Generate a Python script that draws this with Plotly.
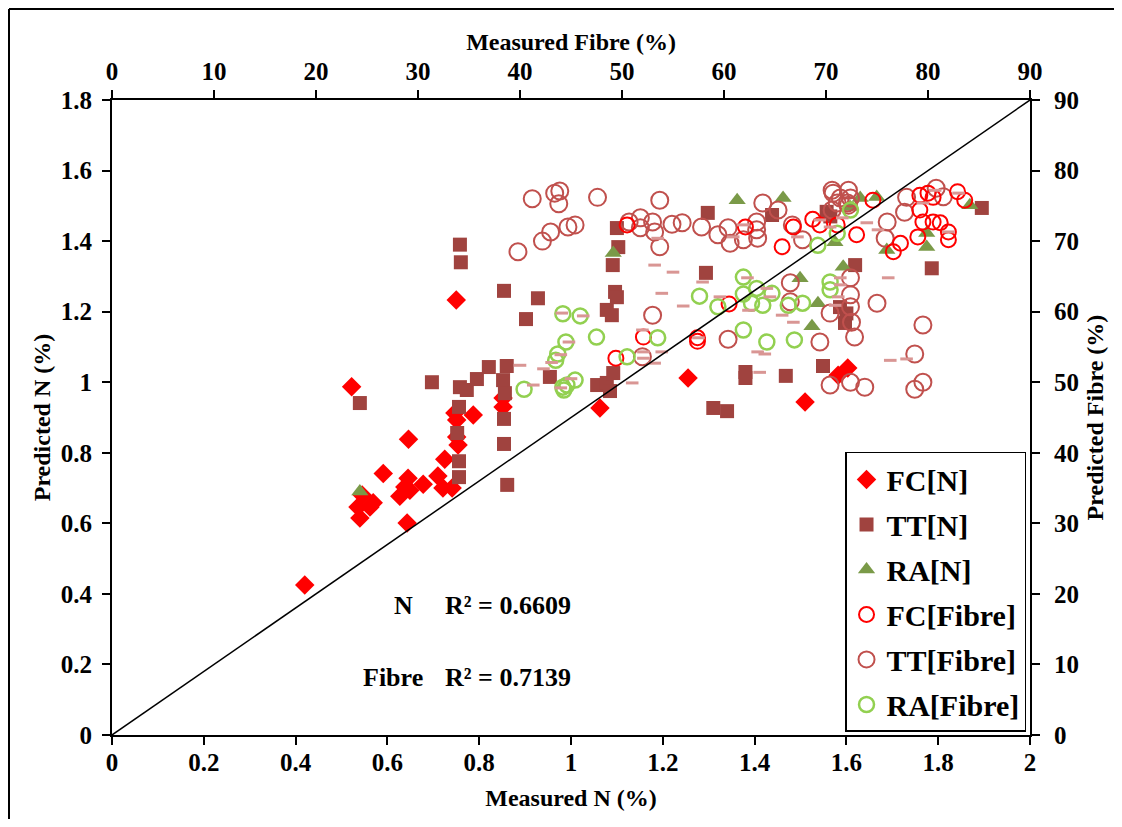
import plotly.graph_objects as go

# ---------------- data ----------------
fc_n_x = [0.42, 0.522, 0.536, 0.540, 0.545, 0.562, 0.569, 0.591, 0.627, 0.638, 0.643, 0.645, 0.646, 0.649,
          0.678, 0.710, 0.721, 0.725, 0.741, 0.747, 0.751, 0.751, 0.754, 0.750, 0.787, 0.852, 0.852,
          1.063, 1.255, 1.510, 1.582, 1.603]
fc_n_y = [0.425, 0.987, 0.646, 0.615, 0.680, 0.646, 0.658, 0.741, 0.677, 0.703, 0.601, 0.728, 0.838, 0.694,
          0.711, 0.734, 0.700, 0.782, 0.700, 0.913, 0.893, 0.845, 0.822, 1.233, 0.907, 0.930, 0.955,
          0.927, 1.012, 0.944, 1.020, 1.040]

tt_n_x = [0.540, 0.697, 0.752, 0.756, 0.756, 0.756, 0.758, 0.773, 0.795, 0.758, 0.760, 0.821, 0.852, 0.854,
          0.854, 0.854, 0.856, 0.860, 0.861, 0.902, 0.928, 0.954, 1.057, 1.078, 1.092, 1.078, 1.089, 1.091,
          1.096, 1.100, 1.100, 1.103, 1.085, 1.298, 1.294, 1.310, 1.340, 1.380, 1.380, 1.438, 1.468, 1.549,
          1.557, 1.586, 1.597, 1.600, 1.619, 1.786, 1.895, 1.565]
tt_n_y = [0.941, 1.000, 0.856, 0.776, 0.731, 0.930, 0.986, 0.978, 1.009, 1.390, 1.340, 1.043, 1.006, 1.259,
          0.896, 0.825, 0.969, 1.046, 0.709, 1.179, 1.238, 1.015, 0.992, 0.998, 1.026, 1.205, 1.190, 1.332,
          1.256, 1.241, 1.437, 1.383, 0.975, 1.480, 1.310, 0.927, 0.918, 1.029, 1.012, 1.474, 1.018, 1.046,
          1.483, 1.213, 1.168, 1.195, 1.332, 1.323, 1.494, 1.470]

ra_n_x = [0.540, 1.092, 1.362, 1.462, 1.499, 1.525, 1.538, 1.575, 1.593, 1.608, 1.630, 1.666, 1.688,
          1.775, 1.775, 1.869]
ra_n_y = [0.690, 1.366, 1.516, 1.522, 1.295, 1.159, 1.224, 1.397, 1.327, 1.497, 1.522, 1.525, 1.375,
          1.423, 1.383, 1.502]

fc_f_x = [49.4, 52.1, 57.4, 57.4, 50.5, 60.5, 62.1, 65.7, 66.8, 68.7, 69.4, 71.1, 73.0, 74.6, 76.6, 77.3,
          79.0, 79.2, 79.2, 79.5, 80.0, 80.5, 80.5, 81.2, 82.0, 82.0, 82.9, 83.6]
fc_f_y = [53.4, 56.4, 56.3, 55.8, 72.3, 61.1, 72.0, 69.2, 72.0, 73.1, 72.3, 72.3, 70.9, 75.8, 68.5, 69.7,
          70.6, 74.4, 76.5, 72.7, 76.8, 76.2, 72.7, 72.6, 71.3, 70.2, 77.0, 75.8]

tt_f_x = [39.8, 41.2, 42.2, 43.0, 43.4, 43.9, 43.8, 44.7, 45.4, 47.6, 50.7, 51.8, 51.8, 53.0, 53.2, 53.7,
          53.7, 54.9, 55.9, 57.8, 59.4, 60.4, 60.6, 61.9, 63.2, 63.2, 63.3, 63.8, 65.3, 66.7, 67.7, 53.0,
          52.0, 60.4, 66.5, 66.5, 70.4, 69.4, 70.4, 70.7, 71.4, 72.1, 70.6, 72.2, 72.4, 71.1, 70.6, 72.2,
          77.9, 77.7, 76.0, 75.8, 72.4, 72.4, 72.4, 72.5, 72.8, 75.0, 79.5, 78.7, 72.4, 73.8, 78.7, 79.5,
          80.8, 81.5]
tt_f_y = [68.5, 76.0, 70.0, 71.3, 76.8, 77.1, 75.3, 72.0, 72.3, 76.2, 72.7, 73.3, 71.9, 72.7, 71.3, 69.2,
          75.8, 72.4, 72.6, 72.0, 70.9, 71.9, 69.7, 70.2, 72.7, 71.6, 70.4, 75.4, 74.4, 72.3, 70.2, 59.5,
          53.6, 56.1, 64.1, 61.4, 59.8, 55.7, 49.6, 76.8, 76.1, 75.4, 77.2, 77.2, 76.1, 75.4, 74.4, 75.1,
          76.2, 74.1, 72.7, 70.4, 64.8, 62.4, 60.7, 58.5, 56.4, 61.2, 58.1, 54.0, 50.0, 49.3, 49.0, 50.0,
          77.5, 76.3]

ra_f_x = [40.4, 43.5, 43.7, 44.2, 44.2, 44.5, 45.4, 45.9, 47.5, 50.5, 53.5, 57.6, 59.4, 61.9, 61.9, 61.9,
          62.7, 63.2, 63.8, 64.2, 64.7, 66.3, 66.9, 67.7, 69.2, 70.4, 70.4, 71.1, 72.4, 44.3, 44.6]
ra_f_y = [49.0, 53.1, 54.0, 59.7, 49.3, 55.7, 50.3, 59.4, 56.4, 53.6, 56.3, 62.2, 60.7, 64.9, 62.5, 57.4,
          61.2, 63.3, 60.9, 55.7, 62.6, 60.9, 56.0, 61.2, 69.4, 64.2, 63.1, 71.1, 74.4, 48.9, 49.6]

dash_x = [40.0, 41.3, 42.3, 44.1, 46.2, 44.8, 44.0, 43.1, 45.0, 44.0, 53.2, 55.0, 53.9, 56.0, 52.0, 52.1,
          52.1, 53.9, 53.2, 51.0, 57.9, 59.6, 62.3, 62.4, 63.3, 64.0, 63.5, 65.7, 66.8, 57.5, 64.2, 64.5,
          71.4, 71.4, 71.2, 70.9, 69.4, 70.4, 71.6, 61.9, 60.9, 53.5, 67.2, 74.0, 75.1, 76.1, 76.3, 77.9,
          79.5, 80.7, 82.0, 83.0]
dash_y = [52.4, 49.6, 51.9, 59.8, 59.4, 55.7, 53.9, 52.8, 50.5, 49.2, 66.6, 65.6, 62.6, 60.8, 57.4, 54.3,
          53.4, 54.3, 52.7, 49.9, 64.2, 62.1, 64.8, 60.2, 54.3, 54.0, 51.4, 59.5, 58.5, 56.3, 63.3, 62.1,
          64.8, 63.8, 62.1, 60.9, 73.0, 72.0, 73.3, 72.3, 70.6, 70.4, 70.6, 72.6, 71.6, 64.8, 53.1, 53.3,
          75.4, 77.2, 71.3, 76.8]

line_x = [0, 90]
line_y = [0, 90]

x_ticks = [0, 0.2, 0.4, 0.6, 0.8, 1, 1.2, 1.4, 1.6, 1.8, 2]
y_ticks = [0, 0.2, 0.4, 0.6, 0.8, 1, 1.2, 1.4, 1.6, 1.8]
f_ticks = [0, 10, 20, 30, 40, 50, 60, 70, 80, 90]

# ---------------- styles ----------------
FONT = "Liberation Serif"
RED = "#FF0000"
TT_DARK = "#A0433F"
TT_LINE = "#C0504D"
RA_DARK = "#7A9A48"
RA_LIGHT = "#92D050"
DASH = "#D99694"

fig = go.Figure()

fig.add_trace(go.Scatter(x=fc_n_x, y=fc_n_y, mode="markers", name="FC[N]", legendgroup="a", legendrank=1,
                         marker=dict(symbol="diamond", size=15, color=RED)))
fig.add_trace(go.Scatter(x=tt_n_x, y=tt_n_y, mode="markers", name="TT[N]", legendgroup="b", legendrank=2,
                         marker=dict(symbol="square", size=14, color=TT_DARK)))
fig.add_trace(go.Scatter(x=ra_n_x, y=ra_n_y, mode="markers", name="RA[N]", legendgroup="c", legendrank=3,
                         marker=dict(symbol="triangle-up", size=15, color=RA_DARK)))
fig.add_trace(go.Scatter(x=tt_f_x, y=tt_f_y, mode="markers", name="TT[Fibre]", legendgroup="e",
                         xaxis="x2", yaxis="y2", legendrank=5,
                         marker=dict(symbol="circle-open", size=17, color=TT_LINE, line=dict(width=2))))
fig.add_trace(go.Scatter(x=fc_f_x, y=fc_f_y, mode="markers", name="FC[Fibre]", legendgroup="d",
                         xaxis="x2", yaxis="y2", legendrank=4,
                         marker=dict(symbol="circle-open", size=15, color=RED, line=dict(width=2))))
fig.add_trace(go.Scatter(x=ra_f_x, y=ra_f_y, mode="markers", name="RA[Fibre]", legendgroup="f",
                         xaxis="x2", yaxis="y2", legendrank=6,
                         marker=dict(symbol="circle-open", size=15, color=RA_LIGHT, line=dict(width=2.5))))
fig.add_trace(go.Scatter(x=dash_x, y=dash_y, mode="markers", showlegend=False,
                         xaxis="x2", yaxis="y2",
                         marker=dict(symbol="line-ew", size=9, color=DASH, line=dict(width=3, color=DASH))))
fig.add_trace(go.Scatter(x=line_x, y=line_y, mode="lines", showlegend=False,
                         xaxis="x2", yaxis="y2", line=dict(color="black", width=1.5)))

tickfont = dict(family=FONT, size=25, color="black", weight="bold")
titlefont = dict(family=FONT, size=24, color="black", weight="bold")
axis_common = dict(showline=True, linecolor="black", linewidth=2, ticks="outside", ticklen=8,
                   tickwidth=1.5, tickcolor="black", showgrid=False, zeroline=False,
                   tickfont=tickfont, mirror=False, automargin=False)

# page body has an 8px margin: the figure is sized so the page does not scroll,
# and margins are offset so the plot area sits where the reference has it
fig.update_layout(
    width=1106, height=811,
    margin=dict(l=104, r=84, t=92, b=84, autoexpand=False),
    paper_bgcolor="white", plot_bgcolor="white",
    font=dict(family=FONT, size=20, color="black", weight="bold"),
    xaxis=dict(range=[0, 2], tickvals=x_ticks, ticktext=[f"{v:g}" for v in x_ticks], ticklabelstandoff=-4,
               title=dict(text="Measured N (%)", font=titlefont, standoff=14), **axis_common),
    yaxis=dict(range=[0, 1.8], tickvals=y_ticks, ticktext=[f"{v:g}" for v in y_ticks], ticklabelstandoff=5,
               title=dict(text="Predicted N (%)", font=titlefont, standoff=3), **axis_common),
    xaxis2=dict(range=[0, 90], tickvals=f_ticks, overlaying="x", side="top", anchor="y",
                title=dict(text="Measured Fibre (%)", font=titlefont, standoff=1), **axis_common),
    yaxis2=dict(range=[0, 90], tickvals=f_ticks, overlaying="y", side="right", anchor="x", ticklabelstandoff=9,
                title=dict(text="Predicted Fibre (%)", font=titlefont, standoff=8), **axis_common),
    legend=dict(x=0.7985, y=0.4457, xanchor="left", yanchor="top", bgcolor="white",
                bordercolor="black", borderwidth=1.5, tracegroupgap=3,
                font=dict(family=FONT, size=30, color="black", weight="bold"),
                itemsizing="trace"),
    showlegend=True,
)

annfont = dict(family=FONT, size=26, color="black", weight="bold")
fig.add_annotation(x=0.330, y=0.2047, xref="paper", yref="paper", text="N", showarrow=False,
                   xanchor="right", yanchor="middle", font=annfont)
fig.add_annotation(x=0.3606, y=0.2047, xref="paper", yref="paper", text="R² = 0.6609", showarrow=False,
                   xanchor="left", yanchor="middle", font=annfont)
fig.add_annotation(x=0.341, y=0.0898, xref="paper", yref="paper", text="Fibre", showarrow=False,
                   xanchor="right", yanchor="middle", font=annfont)
fig.add_annotation(x=0.3606, y=0.0898, xref="paper", yref="paper", text="R² = 0.7139", showarrow=False,
                   xanchor="left", yanchor="middle", font=annfont)

# outer frame: only its left and top edges are visible in the reference
fig.add_shape(type="line", xref="paper", yref="paper", x0=-0.1122, y0=-0.2, x1=-0.1122, y1=1.1433,
              line=dict(color="black", width=2), layer="below")
fig.add_shape(type="line", xref="paper", yref="paper", x0=-0.1122, y0=1.1433, x1=1.2, y1=1.1433,
              line=dict(color="black", width=2), layer="below")

fig.write_html("out.html")
